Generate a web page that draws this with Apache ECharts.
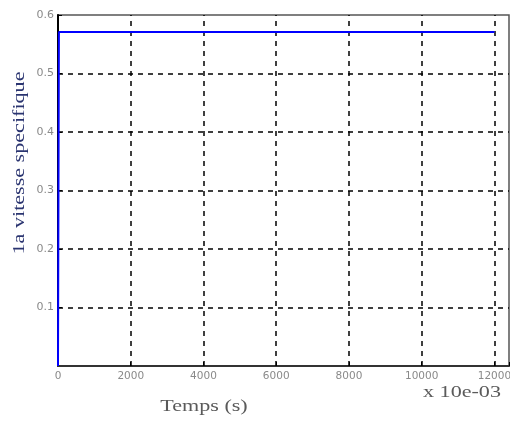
<!DOCTYPE html>
<html><head><meta charset="utf-8">
<script src="https://cdn.jsdelivr.net/npm/echarts@6/dist/echarts.min.js"></script>
<style>html,body{margin:0;padding:0;background:#fff}#c{width:510px;height:421px}</style>
</head><body><div id="c"></div>
<script>
const temps = [0, 25, 12000];
const vitesse = [0, 0.571, 0.571];
const xTicks = [0, 2000, 4000, 6000, 8000, 10000, 12000];
const yTicks = [0.1, 0.2, 0.3, 0.4, 0.5, 0.6];
const xGrid = [2000, 4000, 6000, 8000, 10000, 12000];
const yGrid = [0.1, 0.2, 0.3, 0.4, 0.5];

const dash = {color: '#000', type: [5, 5], width: 1.5};
const chart = echarts.init(document.getElementById('c'), null, {renderer: 'canvas'});
chart.setOption({
  animation: false,
  grid: {left: 58, top: 15, width: 451, height: 351, show: true, borderColor: '#555', borderWidth: 1.5,
    containLabel: false, outerBoundsMode: 'none'},
  xAxis: {
    type: 'value', min: 0, max: 12400, interval: 2000,
    axisLine: {lineStyle: {color: '#333', width: 2}},
    axisTick: {inside: true, length: 4, lineStyle: {color: '#000'}},
    axisLabel: {color: '#8a8a8a', fontSize: 10.5, fontFamily: 'DejaVu Sans', margin: 5,
      formatter: v => xTicks.includes(v) ? String(v) : ''},
    splitLine: {show: false}
  },
  yAxis: {
    type: 'value', min: 0, max: 0.6, interval: 0.1,
    axisLine: {show: true, lineStyle: {color: '#000', width: 2}},
    axisTick: {inside: true, length: 4, lineStyle: {color: '#000'}},
    axisLabel: {color: '#8a8a8a', fontSize: 11, fontFamily: 'DejaVu Sans', margin: 4, showMinLabel: false,
      formatter: v => { const t = yTicks.find(k => Math.abs(k - v) < 1e-9); return t === undefined ? '' : String(t); }},
    splitLine: {show: false}
  },
  series: [{
    type: 'line', data: temps.map((t, i) => [t, vitesse[i]]),
    showSymbol: false, lineStyle: {color: '#0000ff', width: 2}, z: 5,
    markLine: {
      silent: true, symbol: 'none', label: {show: false}, lineStyle: dash, z: 1,
      data: xGrid.map(v => ({xAxis: v})).concat(yGrid.map(v => ({yAxis: v})))
    }
  }],
  graphic: [
    {type: 'text', x: 204, y: 407, scaleX: 1.3, style: {text: 'Temps (s)', font: '17px "Liberation Serif"', fill: '#5a5a5a', align: 'center', verticalAlign: 'middle'}},
    {type: 'text', x: 462, y: 393, scaleX: 1.3, style: {text: 'x 10e-03', font: '17px "Liberation Serif"', fill: '#5a5a5a', align: 'center', verticalAlign: 'middle'}},
    {type: 'text', x: 20, y: 163, rotation: Math.PI / 2, scaleX: 1.3,
      style: {text: '1a vitesse specifique', font: '17px "Liberation Serif"', fill: '#2a3470', align: 'center', verticalAlign: 'middle'}}
  ]
});
</script></body></html>
